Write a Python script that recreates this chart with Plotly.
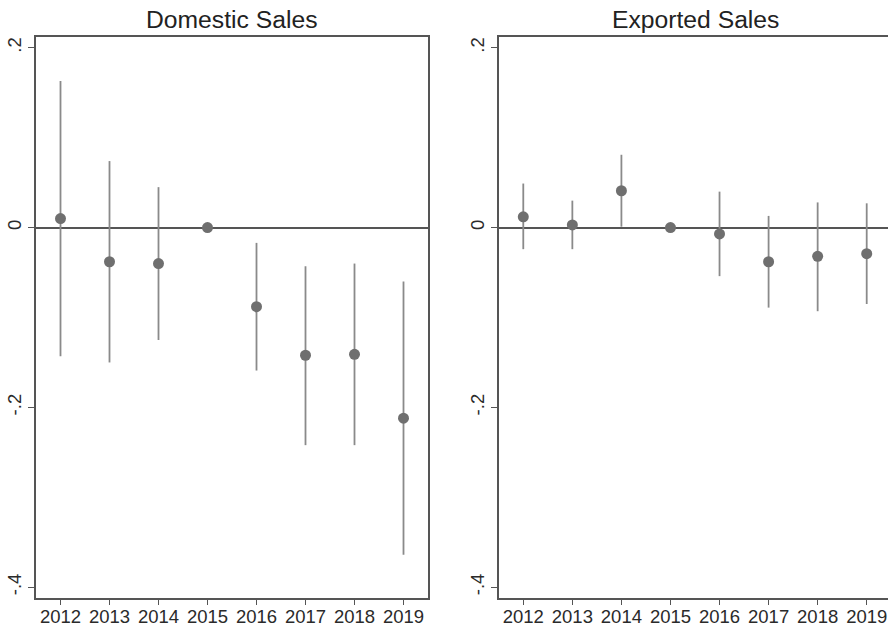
import plotly.graph_objects as go

years = [2012, 2013, 2014, 2015, 2016, 2017, 2018, 2019]

# Domestic sales: point estimates and 95% confidence bounds
dom_est = [0.010, -0.038, -0.040, 0.0, -0.088, -0.142, -0.141, -0.212]
dom_low = [-0.143, -0.150, -0.125, 0.0, -0.159, -0.242, -0.242, -0.364]
dom_high = [0.163, 0.074, 0.045, 0.0, -0.017, -0.043, -0.040, -0.060]

# Exported sales: point estimates and 95% confidence bounds
exp_est = [0.012, 0.003, 0.041, 0.0, -0.007, -0.038, -0.032, -0.029]
exp_low = [-0.024, -0.024, 0.001, 0.0, -0.054, -0.089, -0.093, -0.085]
exp_high = [0.049, 0.030, 0.081, 0.0, 0.040, 0.013, 0.028, 0.027]

y_tickvals = [0.2, 0.0, -0.2, -0.4]
y_ticktext = [".2", "0", "-.2", "-.4"]

W, H = 888, 628
FONT = "Liberation Sans, Arial, Helvetica, sans-serif"
AXIS_COLOR = "#555555"
MARKER_COLOR = "#6f6f6f"
BAR_COLOR = "#8a8a8a"
TICK_FONT = dict(family=FONT, size=18.5, color="#2a2a2a")


def coef_trace(est, low, high, xaxis, yaxis):
    return go.Scatter(
        x=years,
        y=est,
        mode="markers",
        marker=dict(size=11, color=MARKER_COLOR),
        error_y=dict(
            type="data",
            symmetric=False,
            array=[h - e for h, e in zip(high, est)],
            arrayminus=[e - l for e, l in zip(est, low)],
            color=BAR_COLOR,
            thickness=1.8,
            width=0,
        ),
        xaxis=xaxis,
        yaxis=yaxis,
        showlegend=False,
        hoverinfo="skip",
    )


fig = go.Figure()
fig.add_trace(coef_trace(dom_est, dom_low, dom_high, "x", "y"))
fig.add_trace(coef_trace(exp_est, exp_low, exp_high, "x2", "y2"))

y_dom = [30 / H, 1 - 37 / H]

xaxis_common = dict(
    tickmode="array",
    tickvals=years,
    ticktext=[str(y) for y in years],
    ticks="outside",
    ticklen=5,
    tickwidth=1.2,
    tickcolor=AXIS_COLOR,
    ticklabelstandoff=-4,
    showline=True,
    linecolor=AXIS_COLOR,
    linewidth=1.6,
    showgrid=False,
    zeroline=False,
    tickfont=TICK_FONT,
    automargin=False,
)
yaxis_common = dict(
    range=[-0.412, 0.212],
    tickmode="array",
    tickvals=y_tickvals,
    ticktext=y_ticktext,
    tickangle=-90,
    ticks="outside",
    ticklen=6,
    tickwidth=1.2,
    tickcolor=AXIS_COLOR,
    showline=True,
    linecolor=AXIS_COLOR,
    linewidth=1.6,
    showgrid=False,
    zeroline=True,
    zerolinecolor="#555555",
    zerolinewidth=1.8,
    tickfont=TICK_FONT,
    domain=y_dom,
    automargin=False,
)

fig.update_layout(
    width=W,
    height=H,
    margin=dict(l=0, r=0, t=0, b=0),
    paper_bgcolor="white",
    plot_bgcolor="white",
    xaxis=dict(xaxis_common, domain=[36 / W, 428 / W], range=[2011.5, 2019.5],
               mirror=True, anchor="y"),
    yaxis=dict(yaxis_common, mirror=True, anchor="x"),
    xaxis2=dict(xaxis_common, domain=[499 / W, 1.0], range=[2011.505, 2019.434],
                mirror=True, anchor="y2"),
    yaxis2=dict(yaxis_common, mirror=False, anchor="x2"),
    annotations=[
        dict(text="Domestic Sales", x=(36 + 428) / 2 / W, y=1 - 19 / H,
             xref="paper", yref="paper", xanchor="center", yanchor="middle",
             showarrow=False, font=dict(family=FONT, size=24.7, color="#222222")),
        dict(text="Exported Sales", x=(499 + 891) / 2 / W, y=1 - 19 / H,
             xref="paper", yref="paper", xanchor="center", yanchor="middle",
             showarrow=False, font=dict(family=FONT, size=24.7, color="#222222")),
    ],
)

fig.write_html("out.html")
